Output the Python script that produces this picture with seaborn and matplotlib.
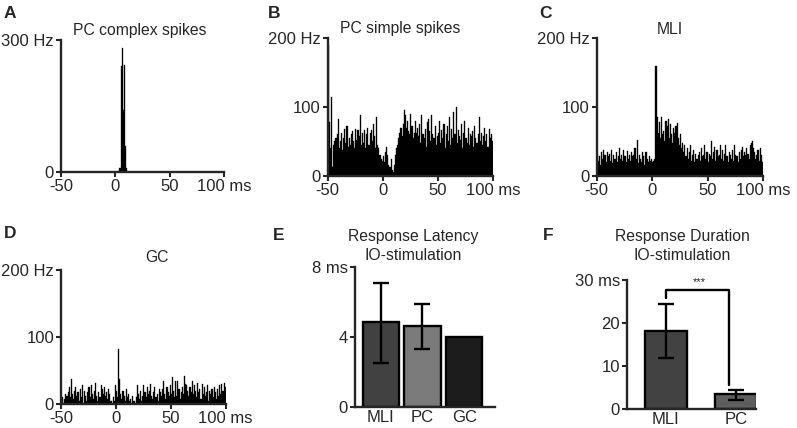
import numpy as np
import pandas as pd
import matplotlib
matplotlib.use('Agg')
import matplotlib.pyplot as plt
import seaborn as sns

# ---- data ----
bin_left_ms = np.arange(-50, 100)  # 1 ms PSTH bins

# PC complex spikes: only bins with spikes
pc_complex_bins = [2, 3, 4, 5, 6, 7, 8, 9, 10]
pc_complex_hz = [3, 8, 10, 240, 282, 140, 243, 60, 8]

pc_simple_hz = [
    190, 78, 40, 115, 12, 45, 50, 55, 60, 82,
    40, 50, 62, 38, 55, 68, 48, 72, 42, 55,
    45, 60, 65, 50, 40, 68, 52, 66, 58, 88,
    45, 62, 48, 66, 40, 60, 70, 45, 62, 66,
    50, 75, 58, 40, 86, 45, 40, 30, 25, 22,
    28, 20, 35, 42, 30, 15, 12, 25, 8, 5,
    15, 30, 40, 45, 55, 62, 70, 58, 75, 95,
    88, 70, 80, 65, 60, 90, 72, 55, 62, 80,
    62, 70, 58, 75, 48, 88, 60, 55, 68, 42,
    78, 82, 65, 50, 88, 60, 55, 72, 45, 58,
    62, 80, 48, 66, 55, 75, 40, 60, 72, 50,
    85, 45, 68, 55, 92, 60, 100, 48, 66, 58,
    52, 75, 40, 62, 80, 55, 48, 70, 45, 60,
    58, 65, 42, 72, 55, 48, 60, 85, 50, 62,
    45, 58, 70, 50, 60, 42, 68, 55, 60, 50,
]

mli_hz = [
    30, 22, 28, 15, 35, 25, 38, 30, 20, 35,
    28, 32, 22, 38, 18, 30, 25, 35, 20, 28,
    40, 25, 30, 22, 38, 28, 20, 36, 25, 30,
    22, 35, 28, 30, 40, 25, 52, 18, 30, 25,
    20, 35, 28, 15, 35, 25, 20, 28, 22, 25,
    20, 22, 25, 160, 85, 62, 78, 55, 86, 60,
    65, 50, 80, 72, 82, 55, 75, 60, 48, 70,
    62, 72, 76, 55, 45, 60, 40, 48, 35, 45,
    28, 40, 25, 35, 45, 22, 30, 38, 20, 32,
    25, 30, 35, 22, 40, 28, 30, 45, 25, 35,
    20, 32, 28, 50, 25, 35, 42, 22, 38, 28,
    30, 45, 25, 38, 22, 32, 45, 28, 20, 35,
    30, 25, 38, 22, 45, 30, 28, 20, 35, 25,
    38, 42, 28, 35, 30, 40, 32, 25, 45, 48,
    50, 40, 35, 25, 30, 38, 22, 40, 30, 20,
]

gc_hz = [
    5, 10, 0, 8, 15, 12, 18, 25, 10, 38,
    15, 8, 20, 25, 12, 18, 5, 22, 10, 28,
    0, 20, 12, 5, 18, 25, 10, 28, 15, 8,
    20, 32, 12, 5, 18, 10, 28, 22, 15, 25,
    12, 18, 8, 22, 15, 5, 0, 10, 5, 28,
    20, 10, 82, 38, 15, 8, 20, 12, 5, 22,
    10, 15, 5, 8, 0, 12, 5, 0, 10, 28,
    15, 8, 20, 5, 12, 28, 18, 10, 25, 15,
    20, 30, 12, 8, 18, 25, 10, 15, 5, 22,
    18, 12, 22, 35, 15, 8, 25, 18, 12, 28,
    15, 40, 20, 10, 35, 12, 35, 22, 8, 18,
    25, 15, 42, 30, 28, 20, 12, 25, 18, 35,
    15, 28, 20, 10, 32, 18, 22, 8, 30, 15,
    25, 12, 18, 28, 5, 20, 15, 22, 10, 25,
    18, 8, 22, 12, 28, 15, 30, 20, 32, 25,
]

latency_cells = ['MLI', 'PC', 'GC']
latency_ms = [4.85, 4.63, 4.02]
latency_err_lo = [2.5, 3.3, np.nan]
latency_err_hi = [7.1, 5.9, np.nan]
latency_colors = ['#414141', '#7b7b7b', '#1c1c1c']

duration_cells = ['MLI', 'PC']
duration_ms = [18.2, 3.4]
duration_err_lo = [11.8, 2.1]
duration_err_hi = [24.4, 4.4]
duration_colors = ['#424242', '#5e5e5e']

# ---- style ----
sns.set_style('ticks')
plt.rcParams['font.family'] = ['Liberation Sans', 'DejaVu Sans']
plt.rcParams['font.size'] = 12

W, H = 797, 428
fig = plt.figure(figsize=(W / 100, H / 100), dpi=100)

TICK_SIZE = 12
TITLE_SIZE = 11.3


def px_box(x0, x1, ytop, ybot):
    return [x0 / W, 1 - ybot / H, (x1 - x0) / W, (ybot - ytop) / H]


def fig_text(x, y, s, **kw):
    fig.text(x / W, 1 - y / H, s, ha=kw.pop('ha', 'center'), va=kw.pop('va', 'center'), **kw)


def style_axes(ax):
    sns.despine(ax=ax)
    for side in ('left', 'bottom'):
        ax.spines[side].set_linewidth(1.7)
    ax.tick_params(direction='out', length=3.5, width=1.5, pad=1.5, labelsize=TICK_SIZE)
    ax.set_xlabel('')
    ax.set_ylabel('')


def draw_psth(ax, rates, ymax, yticks, ylabels):
    df = pd.DataFrame({'t': bin_left_ms + 0.5, 'rate': rates})
    sns.histplot(data=df, x='t', weights='rate', binwidth=1, binrange=(-50, 100),
                 color='black', alpha=1, edgecolor='black', linewidth=0.25, ax=ax)
    ax.set_xlim(-50, 100)
    ax.set_ylim(0, ymax)
    ax.set_xticks([-50, 0, 50, 100])
    ax.set_xticklabels(['-50', '0', '50', '100 ms'])
    ax.set_yticks(yticks)
    ax.set_yticklabels(ylabels)
    style_axes(ax)


def draw_bars(ax, cells, values, lo, hi, colors, width):
    df = pd.DataFrame({'cell': cells, 'value': values})
    sns.barplot(data=df, x='cell', y='value', hue='cell', palette=colors,
                width=width, edgecolor='black', linewidth=1.7, errorbar=None,
                legend=False, ax=ax)
    for i, (l, h) in enumerate(zip(lo, hi)):
        if np.isnan(l):
            continue
        ax.errorbar(i, (l + h) / 2, yerr=(h - l) / 2, color='black',
                    elinewidth=1.7, capsize=6, capthick=1.7, zorder=5)
    style_axes(ax)
    ax.tick_params(axis='x', length=0, pad=2, labelsize=TICK_SIZE)


# A
axA = fig.add_axes(px_box(61, 224, 40, 172))
pc_complex_full = np.zeros(len(bin_left_ms))
pc_complex_full[np.array(pc_complex_bins) + 50] = pc_complex_hz
draw_psth(axA, pc_complex_full, 300, [0, 300], ['0', '300 Hz'])

# B
axB = fig.add_axes(px_box(327.7, 493, 38.3, 175.7))
draw_psth(axB, pc_simple_hz, 200, [0, 100, 200], ['0', '100', '200 Hz'])

# C
axC = fig.add_axes(px_box(596.7, 763, 38.3, 175.7))
draw_psth(axC, mli_hz, 200, [0, 100, 200], ['0', '100', '200 Hz'])

# D
axD = fig.add_axes(px_box(61, 225.7, 270, 404))
draw_psth(axD, gc_hz, 200, [0, 100, 200], ['0', '100', '200 Hz'])

# E
axE = fig.add_axes(px_box(355, 495, 266.7, 407.3))
draw_bars(axE, latency_cells, latency_ms, latency_err_lo, latency_err_hi,
          latency_colors, 0.88)
axE.set_xlim(-0.62, 2.74)
axE.set_ylim(0, 8)
axE.set_yticks([0, 4, 8])
axE.set_yticklabels(['0', '4', '8 ms'])

# F
axF = fig.add_axes(px_box(626.7, 756, 280, 409))
draw_bars(axF, duration_cells, duration_ms, duration_err_lo, duration_err_hi,
          duration_colors, 0.6)
axF.set_xlim(-0.56, 1.29)
axF.set_ylim(0, 30)
axF.set_yticks([0, 10, 20, 30])
axF.set_yticklabels(['0', '10', '20', '30 ms'])
# significance bracket
top = max(duration_err_hi) + 3.3
axF.plot([0, 0, 0.9, 0.9],
         [duration_err_hi[0] + 1.5, top, top, duration_err_hi[1] + 1.2],
         color='black', lw=1.7, clip_on=False)
axF.text(0.48, top + 0.6, '***', ha='center', va='bottom', fontsize=8)

# panel letters and titles
for letter, x, y in [('A', 10, 13), ('B', 274, 13), ('C', 546, 13),
                     ('D', 10, 234), ('E', 279, 235), ('F', 548, 235)]:
    fig_text(x, y, letter, fontsize=12.5, fontweight='bold')

fig_text(140, 30, 'PC complex spikes', fontsize=TITLE_SIZE)
fig_text(400, 29, 'PC simple spikes', fontsize=TITLE_SIZE)
fig_text(670, 30, 'MLI', fontsize=TITLE_SIZE)
fig_text(157, 257, 'GC', fontsize=TITLE_SIZE)
fig_text(413, 237, 'Response Latency', fontsize=TITLE_SIZE)
fig_text(413, 256, 'IO-stimulation', fontsize=TITLE_SIZE)
fig_text(682, 237, 'Response Duration', fontsize=TITLE_SIZE)
fig_text(682, 256, 'IO-stimulation', fontsize=TITLE_SIZE)

fig.savefig('out.png', dpi=100)
